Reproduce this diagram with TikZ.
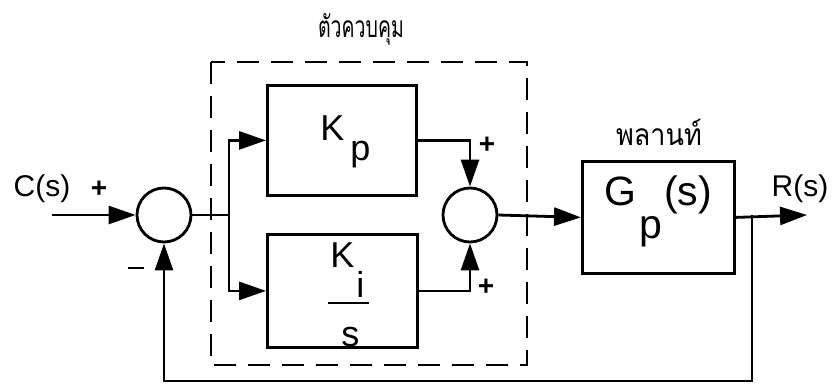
\documentclass[tikz,border=0pt]{standalone}
\usepackage{fontspec}
\setmainfont{Liberation Sans}
\newfontfamily\thaifont[Script=Thai]{Loma}
\usetikzlibrary{arrows.meta}
\begin{document}
\begin{tikzpicture}[x=1pt,y=-1pt,
  line width=2.8pt,
  >={Triangle[length=27pt,width=18pt]},
  blockbox/.style={draw,rectangle,inner sep=0pt,anchor=north west},
  summer/.style={draw,circle,minimum size=54pt,inner sep=0pt},
  lbl/.style={inner sep=0pt,font=\fontsize{30}{30}\selectfont},
  sgn/.style={inner sep=0pt,font=\fontsize{28}{28}\selectfont\bfseries},
  thai/.style={inner sep=0pt,anchor=base,font=\thaifont\fontsize{30}{34}\selectfont},
  blk/.style={inner sep=0pt,anchor=base west,font=\fontsize{36}{36}\selectfont},
  ctrlbox/.style={draw,dash pattern=on 22pt off 12pt,line width=2.6pt}]
\useasboundingbox (0,0) rectangle (832,388);
% controller dashed frame
\draw[ctrlbox] (211,62) rectangle (527,365);
\node[thai,xscale=0.65] (tctrl) at (361,37) {ตัวควบคุม};
\node[thai,xscale=0.9] (tplant) at (659,145) {พลานท์};
% blocks
\node[blockbox,minimum width=149pt,minimum height=110pt] (kp) at (266,84) {};
\node[blk] (kptxt) at (319,140) {K\kern6pt\raisebox{-20pt}{p}};
\node[blockbox,minimum width=150pt,minimum height=113pt] (ki) at (266,233) {};
\node[blk] (kitxtk) at (329,267) {K};
\node[blk] (kitxti) at (355,297) {i};
\coordinate (barl) at (328,303);
\coordinate (barr) at (369,303);
\draw[line width=1.6pt] (barl) -- (barr);
\node[blk] (kitxts) at (340,346) {s};
\node[blockbox,minimum width=152pt,minimum height=112pt] (gp) at (581,160) {};
\node[blk,font=\fontsize{41}{41}\selectfont] (gptxt) at (603,205) {G\kern3pt\raisebox{-33pt}{p}\kern2pt(s)};
% summing junctions
\node[summer] (s1) at (164,215) {};
\node[summer] (s2) at (470,215) {};
% labels
\node[lbl] (cs) at (42,189) {C(s)};
\node[lbl] (rs) at (800,189) {R(s)};
\node[sgn] (p1) at (99,189) {+};
\node[sgn] (m1) at (136,268) {\rule{16pt}{2.6pt}};
\node[sgn] (p2) at (487,145) {+};
\node[sgn] (p3) at (486,287) {+};
% coordinates
\coordinate (in) at (52,215);
\coordinate (j1) at (229,215);
\coordinate (out) at (807,215);
\coordinate (j2) at (752,215);
\coordinate (fb) at (752,381);
% connectors
\draw[->] (in) -- (s1.west);
\draw (s1.east) -- (j1);
\draw[->] (j1) |- (kp.west);
\draw[->] (j1) |- (ki.west);
\draw[->] (kp.east) -| (s2.north);
\draw[->] (ki.east) -| (s2.south);
\draw[->] (s2.east) -- (gp.west);
\draw[->] (gp.east) -- (out);
\draw[->] (j2) -- (fb) -| (s1.south);
\end{tikzpicture}
\end{document}
